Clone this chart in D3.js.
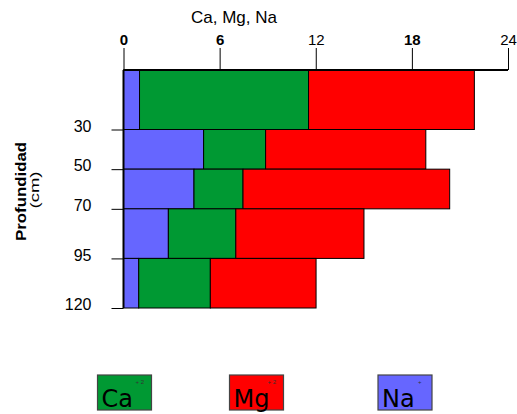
<!DOCTYPE html>
<html>
<head>
<meta charset="utf-8">
<script src="https://cdn.jsdelivr.net/npm/d3@7"></script>
<style>
  html, body { margin: 0; padding: 0; background: #fff; }
  svg { display: block; font-family: "Liberation Sans", Arial, sans-serif; }
</style>
</head>
<body>
<svg id="chart" width="517" height="414"></svg>
<script>
// ---- data ----
const depthBounds = [0, 30, 50, 70, 95, 120];      // layer boundaries (cm)
const depthTicks = [30, 50, 70, 95, 120];
const xTicks = [0, 6, 12, 18, 24];
const seriesNames = ["Na", "Ca", "Mg"];
const naValues = [1.0, 5.0, 4.4, 2.8, 0.95];
const caValues = [10.55, 3.87, 3.06, 4.21, 4.47];
const mgValues = [10.35, 10.0, 12.9, 8.0, 6.6];
const legendNames = ["Ca", "Mg", "Na"];
const legendCharges = ["+ 2", "+ 2", "+"];
const colors = { Na: "#6666ff", Ca: "#009933", Mg: "#ff0000" };

// ---- build table ----
const rows = naValues.map((_, i) => ({
  top: depthBounds[i], bottom: depthBounds[i + 1],
  Na: naValues[i], Ca: caValues[i], Mg: mgValues[i]
}));
const stacked = d3.stack().keys(seriesNames)(rows);

const svg = d3.select("#chart");
const x = d3.scaleLinear().domain([0, 24]).range([123.5, 508]);
const y = d3.scaleLinear().domain([0, 120]).range([70, 308]);

// bars
svg.append("g").selectAll("g").data(stacked).join("g")
  .attr("fill", d => colors[d.key])
  .selectAll("rect").data(d => d).join("rect")
  .attr("x", d => x(d[0]))
  .attr("width", d => x(d[1]) - x(d[0]))
  .attr("y", d => y(d.data.top))
  .attr("height", d => y(d.data.bottom) - y(d.data.top))
  .attr("stroke", "#000")
  .attr("stroke-width", 1);

// top axis
const xAxis = d3.axisTop(x).tickValues(xTicks).tickSize(22).tickPadding(3).tickFormat(d3.format("d"));
const gx = svg.append("g").attr("transform", "translate(0,70)").call(xAxis);
gx.select(".domain").attr("stroke", "#000").attr("stroke-width", 2)
  .attr("d", `M${x(0)},0H${x(24)}`);
gx.selectAll(".tick line").attr("stroke", "#000");
gx.selectAll(".tick text").attr("font-size", 15).attr("fill", "#000")
  .attr("font-family", "Liberation Sans, Arial, sans-serif");
gx.selectAll(".tick").filter(d => d === 0 || d === 6 || d === 18)
  .select("text").attr("font-weight", "bold");

// left axis
const yAxis = d3.axisLeft(y).tickValues(depthTicks).tickSize(12).tickPadding(20);
const gy = svg.append("g").attr("transform", `translate(${x(0)},0)`).call(yAxis);
gy.select(".domain").attr("stroke", "#000").attr("stroke-width", 2)
  .attr("d", `M0,${y(0)}V${y(120)}`);
gy.selectAll(".tick line").attr("stroke", "#000");
gy.selectAll(".tick text").attr("font-size", 16).attr("fill", "#000")
  .attr("dy", "0.1em")
  .attr("font-family", "Liberation Sans, Arial, sans-serif");

// titles
svg.append("text").attr("x", 234).attr("y", 23).attr("text-anchor", "middle")
  .attr("font-size", 17).text("Ca, Mg, Na");
svg.append("text").attr("transform", "translate(25.5,191.5) rotate(-90)")
  .attr("text-anchor", "middle").attr("font-size", 14).attr("font-weight", "bold")
  .attr("textLength", 99).attr("lengthAdjust", "spacingAndGlyphs").text("Profundidad");
svg.append("text").attr("transform", "translate(39,190) rotate(-90)")
  .attr("text-anchor", "middle").attr("font-size", 13)
  .attr("textLength", 37).attr("lengthAdjust", "spacingAndGlyphs").text("(cm)");

// legend
const legendX = d3.scaleOrdinal().domain(legendNames).range([97.5, 229.5, 378]);
const lg = svg.append("g").selectAll("g").data(legendNames).join("g")
  .attr("transform", d => `translate(${legendX(d)},375)`);
lg.append("rect").attr("width", 54).attr("height", 35)
  .attr("fill", d => colors[d]).attr("stroke", "#444").attr("stroke-width", 1.2);
lg.append("text").attr("x", 4).attr("y", 31.5).attr("font-size", 24)
  .attr("font-family", "DejaVu Sans, sans-serif").attr("fill", "#000").text(d => d);
lg.append("text").attr("x", d => d === "Na" ? 40 : 38).attr("y", 9)
  .attr("font-size", 6).attr("fill", "#333")
  .text((d, i) => legendCharges[i]);
</script>
</body>
</html>
